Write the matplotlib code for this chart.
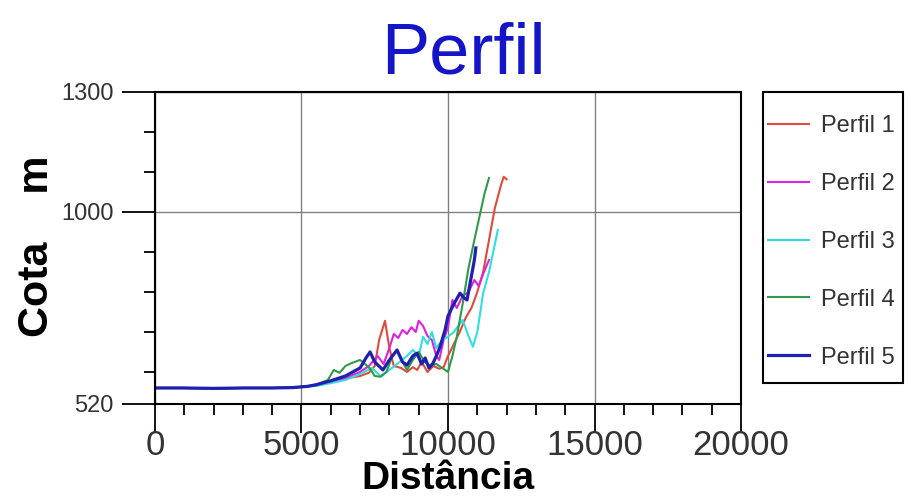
import matplotlib
matplotlib.use("Agg")
import matplotlib.pyplot as plt
from matplotlib.patches import Rectangle
from matplotlib.ticker import MultipleLocator, FixedLocator

# Dados (distância em m, cota em m)
base_x = [0, 1000, 2000, 3000, 4000, 4700, 5200]
base_y = [560, 560, 559, 560, 560, 561, 564]

perfil1_x = base_x + [5700, 6200, 6600, 7000, 7300, 7500, 7650, 7850, 8000, 8150, 8400, 8600,
                      8800, 8950, 9100, 9300, 9500, 9700, 9850, 10000, 10200, 10400, 10600,
                      10800, 11000, 11200, 11400, 11600, 11800, 11900, 12000]
perfil1_y = base_y + [572, 580, 585, 590, 598, 615, 680, 728, 660, 615, 610, 600,
                      612, 605, 625, 600, 615, 608, 612, 640, 670, 700, 735,
                      760, 800, 850, 930, 1010, 1065, 1088, 1082]

perfil2_x = base_x + [5500, 6000, 6500, 7000, 7300, 7600, 7800, 8000, 8150, 8300, 8450, 8600,
                      8750, 8900, 9000, 9150, 9300, 9450, 9600, 9700, 9850, 10000, 10150,
                      10300, 10500, 10700, 10900, 11050, 11200, 11400]
perfil2_y = base_y + [567, 575, 585, 600, 615, 640, 620, 660, 695, 685, 705, 695,
                      712, 700, 728, 715, 690, 680, 640, 630, 680, 712, 780,
                      760, 790, 800, 830, 815, 845, 880]

perfil3_x = base_x + [5500, 6000, 6500, 7000, 7400, 7700, 8000, 8300, 8600, 8800, 9000, 9150,
                      9300, 9450, 9600, 9800, 10000, 10200, 10500, 10700, 10850, 11000,
                      11200, 11400, 11600, 11700]
perfil3_y = base_y + [565, 572, 580, 595, 610, 590, 605, 622, 640, 655, 640, 688,
                      670, 700, 660, 680, 688, 700, 730, 690, 663, 700,
                      797, 850, 920, 955]

perfil4_x = base_x + [5500, 5900, 6100, 6300, 6500, 6700, 7000, 7300, 7500, 7700, 7900, 8100,
                      8260, 8450, 8600, 8800, 9000, 9200, 9400, 9600, 9800, 10000, 10150,
                      10300, 10500, 10700, 10900, 11100, 11250, 11400]
perfil4_y = base_y + [568, 580, 605, 598, 615, 622, 630, 612, 590, 588, 600, 640,
                      655, 625, 605, 630, 650, 625, 615, 620, 610, 600, 640,
                      688, 770, 860, 930, 997, 1047, 1085]

perfil5_x = base_x + [5500, 6000, 6500, 7000, 7200, 7340, 7500, 7780, 8000, 8260, 8450, 8600,
                      8800, 8940, 9100, 9220, 9350, 9490, 9600, 9730, 9900, 10000, 10200,
                      10410, 10550, 10650, 10800, 10900, 10950]
perfil5_y = base_y + [568, 578, 590, 610, 635, 650, 625, 605, 630, 655, 625, 617,
                      640, 647, 620, 635, 610, 622, 640, 663, 705, 740, 770,
                      797, 785, 780, 840, 880, 910]

nomes = ["Perfil 1", "Perfil 2", "Perfil 3", "Perfil 4", "Perfil 5"]
cores = ["#e04a3a", "#e020e0", "#30dede", "#2f9a4a", "#2020b0"]

plt.rcParams['font.family'] = ['Liberation Sans', 'DejaVu Sans']

fig = plt.figure(figsize=(9.1, 4.98), dpi=100)
ax = fig.add_axes([0.1703, 0.1888, 0.644, 0.6265])

series = [(perfil1_x, perfil1_y), (perfil2_x, perfil2_y), (perfil3_x, perfil3_y),
          (perfil4_x, perfil4_y), (perfil5_x, perfil5_y)]
for (xs, ys), nome, cor in zip(series, nomes, cores):
    lw = 2.3 if nome == "Perfil 5" else 1.5
    ax.plot(xs, ys, color=cor, lw=lw, label=nome)

ax.set_xlim(0, 20000)
ax.set_ylim(520, 1300)

ax.xaxis.set_major_locator(MultipleLocator(5000))
ax.xaxis.set_minor_locator(MultipleLocator(1000))
ax.yaxis.set_major_locator(FixedLocator([520, 1000, 1300]))
ax.yaxis.set_minor_locator(FixedLocator([600, 700, 800, 900, 1100, 1200]))

ax.tick_params(axis='x', which='major', length=21, width=1.3, labelsize=25, pad=-3)
ax.tick_params(axis='x', which='minor', length=8, width=1.3)
ax.tick_params(axis='y', which='major', length=24, width=1.3, labelsize=17, pad=6)
ax.tick_params(axis='y', which='minor', length=8, width=1.3)
for lab in ax.get_xticklabels() + ax.get_yticklabels():
    lab.set_color('#333333')

ax.grid(True, which='major', color='#808080', lw=1)
ax.set_axisbelow(True)
for s in ax.spines.values():
    s.set_linewidth(1.5)

ax.set_xlabel("Distância", fontsize=28, fontweight='bold')
ax.xaxis.set_label_coords(0.5, -0.183)
ax.xaxis.label.set_va('top')
ax.set_ylabel("Cota    m", fontsize=31, fontweight='bold')
ax.yaxis.label.set_va('center')
ax.yaxis.set_label_coords(-0.201, 0.505)

fig.text(0.509, 0.852, "Perfil", fontsize=52, color='#1414c8', ha='center', va='baseline')

# caixa da legenda
fig.add_artist(Rectangle((763 / 910, 1 - 383 / 498), 140 / 910, 291 / 498,
                         transform=fig.transFigure, fill=False, edgecolor='black', lw=1.5))
leg = ax.legend(loc='upper left', bbox_to_anchor=(768 / 910, 1 - 115 / 498),
                bbox_transform=fig.transFigure, borderaxespad=0, borderpad=0, fontsize=17,
                frameon=False, handlelength=1.75, handletextpad=0.5, labelspacing=1.52)
for t in leg.get_texts():
    t.set_color('#333333')

fig.savefig("out.png", dpi=100)
